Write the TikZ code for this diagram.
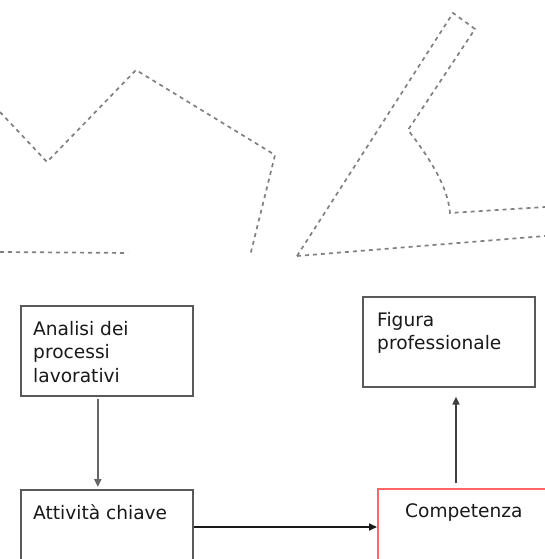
\documentclass[tikz,border=0pt]{standalone}
\usepackage{fontspec}
\setmainfont{DejaVu Sans}
\usetikzlibrary{arrows.meta}
\usetikzlibrary{scopes}

\begin{document}
\begin{tikzpicture}[x=1pt,y=-1pt]
\useasboundingbox (0,0) rectangle (545,559);
\clip (0,0) rectangle (545,559);

% dashed sketch at the top
\begin{scope}[color=black!50, line width=1.7pt, dash pattern=on 4pt off 4pt]
    \draw (0,112) -- (47,162) -- (136,70) -- (275,155) -- (250,256);
    \draw (0,252) -- (128,253);
    \draw (297,256) -- (453,13) -- (475,29) -- (408,130)
          .. controls (435,165) and (448,190) .. (450,213) -- (545,207);
    \draw (297,256) -- (545,236);
\end{scope}

\begin{scope}[every node/.style={rectangle,draw=black!65,line width=1.6pt,anchor=north west,inner sep=0pt}]
    \node[minimum width=172pt,minimum height=90pt] (A) at (20,305) {};
    \node[minimum width=172pt,minimum height=120pt] (B) at (20,489) {};
    \node[minimum width=200pt,minimum height=120pt,draw=red!60] (C) at (377,488) {};
    \node[minimum width=172pt,minimum height=90pt] (F) at (362,296) {};
\end{scope}

\begin{scope}[every node/.style={anchor=north west,inner sep=0pt,align=left,
              font=\fontsize{18.6}{23.5}\selectfont,text=black!90}]
    \node (At) at ([shift={(13,16)}]A.north west) {Analisi dei\\processi\\lavorativi};
    \node (Bt) at ([shift={(13,15)}]B.north west) {Attività chiave};
    \node (Ct) at ([shift={(28,15)}]C.north west) {Competenza};
    \node (Ft) at ([shift={(15,16)}]F.north west) {Figura\\professionale};
\end{scope}

\begin{scope}[>={Triangle[length=8pt,width=7pt]}]
    \draw[->, line width=2.2pt, black!60] ([xshift=-9pt,yshift=-2pt]A.south) -- ([xshift=-9pt,yshift=2pt]B.north);
    \draw[->, line width=1.7pt, black!90] ([yshift=-38pt]B.north east) -- ([yshift=-39pt]C.north west);
    \draw[->, line width=1.7pt, black!75] ([xshift=79pt,yshift=5pt]C.north west) -- ([xshift=94pt,yshift=-9pt]F.south west);
\end{scope}
\end{tikzpicture}
\end{document}
